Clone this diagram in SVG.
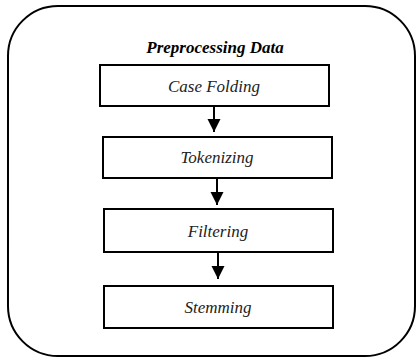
<svg xmlns="http://www.w3.org/2000/svg" width="418" height="358" viewBox="0 0 418 358">
<defs>
<marker id="ah" viewBox="0 0 10 10" refX="10" refY="5" markerWidth="6.5" markerHeight="7" markerUnits="strokeWidth" orient="auto">
<path d="M0,0 L10,5 L0,10 z" fill="#000"/>
</marker>
</defs>
<rect width="418" height="358" fill="#fff"/>
<g id="container">
<rect x="8" y="6" width="407" height="350" rx="50" ry="50" fill="#fff" stroke="#000" stroke-width="2"/>
<text x="215" y="53" font-family="Liberation Serif" font-size="17" font-style="italic" font-weight="bold" text-anchor="middle" fill="#000">Preprocessing Data</text>
</g>
<g id="nodes" font-family="Liberation Serif" font-size="17" font-style="italic" text-anchor="middle">
<g id="case-folding">
<rect x="100" y="65" width="229" height="41" fill="#fff" stroke="#000" stroke-width="2"/>
<text x="214" y="92" fill="#222">Case Folding</text>
</g>
<g id="tokenizing">
<rect x="103" y="137" width="229" height="41" fill="#fff" stroke="#000" stroke-width="2"/>
<text x="217" y="163" fill="#222">Tokenizing</text>
</g>
<g id="filtering">
<rect x="104" y="209" width="229" height="43" fill="#fff" stroke="#000" stroke-width="2"/>
<text x="218" y="237" fill="#222">Filtering</text>
</g>
<g id="stemming">
<rect x="104" y="286" width="229" height="42" fill="#fff" stroke="#000" stroke-width="2"/>
<text x="218" y="313" fill="#222">Stemming</text>
</g>
</g>
<g id="connectors" stroke="#000" stroke-width="2" fill="none">
<line x1="214" y1="107" x2="214" y2="132" marker-end="url(#ah)"/>
<line x1="217" y1="179" x2="217" y2="205" marker-end="url(#ah)"/>
<line x1="218" y1="253" x2="218" y2="279" marker-end="url(#ah)"/>
</g>
</svg>
